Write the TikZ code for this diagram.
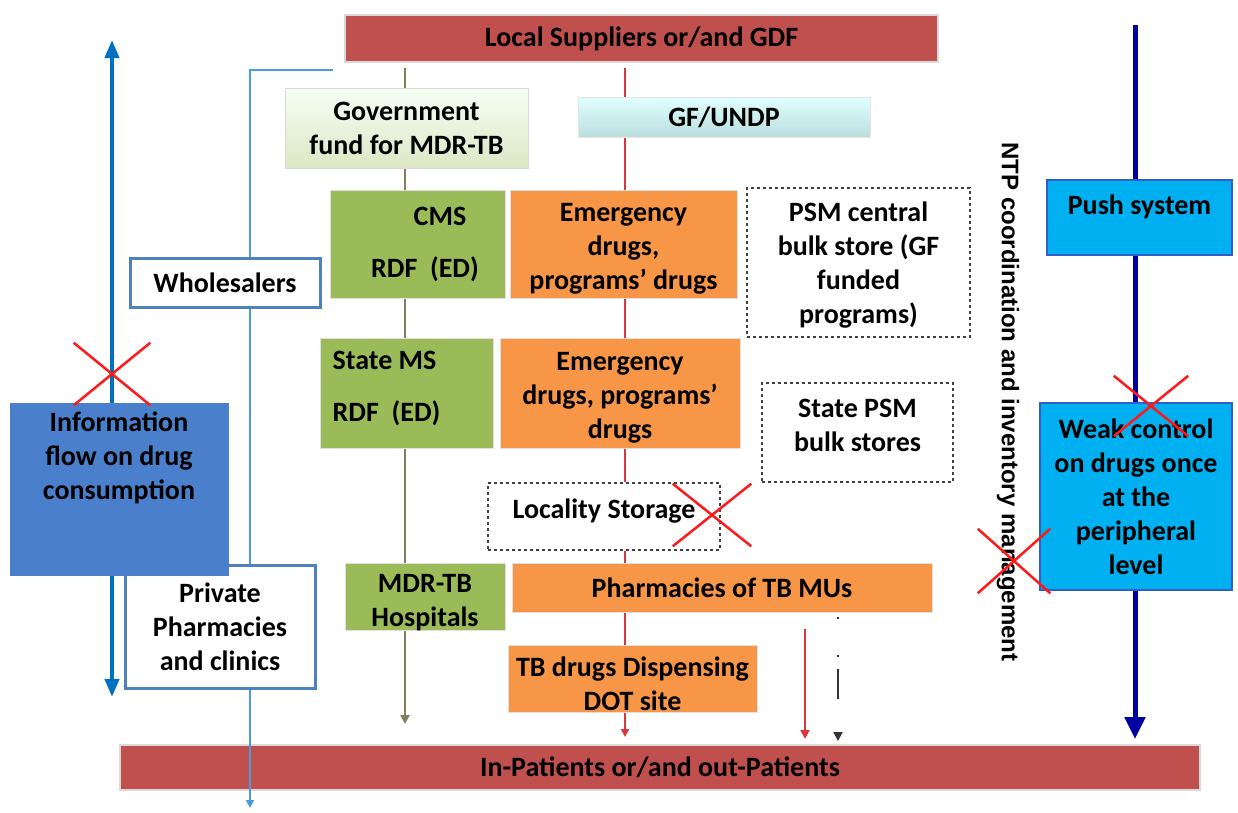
\documentclass[tikz,border=0pt]{standalone}
\usepackage{fontspec}
\setmainfont{Carlito}
\newfontfamily\arialfont{Liberation Sans}
\usetikzlibrary{arrows.meta,shapes.misc}
\definecolor{barred}{HTML}{C0504D}
\definecolor{mygreen}{HTML}{9BBB59}
\definecolor{myorange}{HTML}{F79646}
\definecolor{infoblue}{HTML}{4A7FCB}
\definecolor{mycyan}{HTML}{00B0F0}
\definecolor{cyanedge}{HTML}{2F5FC8}
\definecolor{leftblue}{HTML}{0070C0}
\definecolor{thinblue}{HTML}{4A9BDB}
\definecolor{boxblue}{HTML}{4F81BD}
\definecolor{olive}{HTML}{7F7F5F}
\definecolor{redline}{HTML}{D9363E}
\definecolor{navy}{HTML}{0000A0}
\begin{document}
\begin{tikzpicture}[x=1pt,y=-1pt,
  txt/.style={font=\bfseries\fontsize{28}{34}\selectfont, align=center, inner sep=0pt},
  box/.style={txt, draw=black!12, line width=1pt},
  bar/.style={box, fill=barred, draw=black!15, line width=2pt},
  greenbox/.style={box, fill=mygreen},
  orangebox/.style={box, fill=myorange},
  dashbox/.style={box, draw=black!75, dashed, line width=1.2pt, fill=white},
  whitebox/.style={box, draw=boxblue, line width=3pt, fill=white},
  cyanbox/.style={box, fill=mycyan, draw=cyanedge, line width=1.5pt},
  redx/.style={cross out, draw=red!90!white, line width=2.5pt, inner sep=0pt},
  oliveline/.style={draw=olive, line width=2.5pt},
  redln/.style={draw=redline, line width=2pt},
  thinln/.style={draw=thinblue, line width=2pt},
  navyln/.style={draw=navy, line width=5pt},
  leftln/.style={draw=leftblue, line width=4pt},
]
\useasboundingbox (0,0) rectangle (1238,812);

% bars
\node[bar, minimum width=593pt, minimum height=47pt] (top) at (641.5,38.5) {Local Suppliers or/and GDF};
\node[bar, minimum width=1080pt, minimum height=45pt] (bottom) at (660,767.5) {In-Patients or/and out-Patients};

% funds
\node[box, top color=green!4!white, bottom color=mygreen!35!white, draw=black!15, minimum width=243pt, minimum height=80pt] (gov) at (406.5,128) {Government\\fund for MDR-TB};
\node[box, top color=cyan!12!white, bottom color=cyan!35!gray!40!white, draw=black!10, minimum width=292pt, minimum height=40pt] (gf) at (724,117) {GF/UNDP};

% central level
\node[greenbox, minimum width=175pt, minimum height=108pt] (cms) at (417.5,244) {\hspace*{45pt}CMS\\[18pt]\hspace*{15pt}RDF~~(ED)};
\node[orangebox, minimum width=227pt, minimum height=108pt] (em1) at (623.5,244) {};
\node[txt] (em1text) at ([yshift=-5pt]em1.center) {Emergency\\drugs,\\programs’ drugs};
\node[dashbox, minimum width=223pt, minimum height=149pt] (psm) at (858.5,262.5) {};
\node[txt] (psmtext) at ([yshift=-3pt]psm.center) {PSM central\\bulk store (GF\\funded\\programs)};

% state level
\node[greenbox, minimum width=173pt, minimum height=110pt] (sms) at (406.5,393) {};
\node[txt, anchor=north west, align=left] (smstext) at ([xshift=13pt,yshift=-13pt]sms.north west) {State MS\\[18pt]RDF~~(ED)};
\node[orangebox, minimum width=240pt, minimum height=110pt] (em2) at (620,393) {};
\node[txt] (em2text) at ([yshift=-5pt]em2.center) {Emergency\\drugs, programs’\\drugs};
\node[dashbox, minimum width=191pt, minimum height=99pt] (spsm) at (857.5,432.5) {};
\node[txt] (spsmtext) at ([yshift=7pt]spsm.center) {State PSM\\bulk stores};

% locality
\node[dashbox, minimum width=232pt, minimum height=67pt] (loc) at (604,516.5) {};
\node[txt] (loctext) at ([yshift=5pt]loc.center) {Locality Storage};

% facilities
\node[greenbox, minimum width=160pt, minimum height=67pt] (mdr) at (425,596.5) {};
\node[txt] (mdrtext) at ([yshift=-6pt]mdr.center) {MDR-TB\\Hospitals};
\node[orangebox, minimum width=420pt, minimum height=49pt] (pharm) at (722,587.5) {Pharmacies of TB MUs};
\node[orangebox, minimum width=249pt, minimum height=67pt] (tbd) at (632.5,678.5) {};
\node[txt] (tbdtext) at ([yshift=-5pt]tbd.center) {TB drugs Dispensing\\DOT site};

% private sector
\node[whitebox, minimum width=190pt, minimum height=49pt] (whole) at (225,282.5) {Wholesalers};
\node[whitebox, minimum width=190pt, minimum height=123pt] (priv) at (220,626.5) {Private\\Pharmacies\\and clinics};

% information box
\node[box, fill=infoblue, draw=infoblue, minimum width=218pt, minimum height=172pt] (info) at (119,489) {};
\node[txt, anchor=north] (infotext) at ([yshift=-9pt]info.north) {Information\\flow on drug\\consumption};

% push side
\node[cyanbox, minimum width=185pt, minimum height=75pt, text height=20pt, text depth=27pt] (push) at (1139.5,217.5) {Push system};
\node[cyanbox, minimum width=192pt, minimum height=187pt] (weak) at (1136,496.5) {Weak control\\on drugs once\\at the\\peripheral\\level};

% NTP text
\node[rotate=-90, inner sep=0pt, font=\arialfont\bfseries\fontsize{24}{28}\selectfont] (ntp) at (1008,402) {NTP coordination and inventory management};

% coordinates
\coordinate (lx) at (112,0);
\coordinate (ltop) at (112,40);
\coordinate (lbot) at (112,697);
\coordinate (wx) at (250,0);
\coordinate (wstart) at (333,70);
\coordinate (wend) at (250,808);
\coordinate (ox) at (405,0);
\coordinate (oend) at (405,724);
\coordinate (rx) at (625,0);
\coordinate (rend) at (625,737);
\coordinate (r2x) at (805,0);
\coordinate (r2end) at (805,739);
\coordinate (dx) at (838,0);
\coordinate (dend) at (838,741);
\coordinate (bx) at (1135,0);
\coordinate (bstart) at (1135,25);
\coordinate (bend) at (1135,739);

% left information arrow
\draw[leftln, -{Triangle[length=18pt,width=14pt]}] (info.north -| lx) -- (ltop);
\draw[leftln, -{Triangle[length=18pt,width=14pt]}] (info.south -| lx) -- (lbot);

% private sector thin line
\draw[thinln] (wstart) -| (whole.north -| wx);
\draw[thinln] (whole.south -| wx) -- (priv.north -| wx);
\draw[thinln, -{Triangle[length=8pt,width=8pt]}] (priv.south -| wx) -- (wend);

% olive line (government)
\draw[oliveline] ([yshift=-5pt]top.south -| ox) -- (gov.north -| ox);
\draw[oliveline] (gov.south -| ox) -- (cms.north -| ox);
\draw[oliveline] (cms.south -| ox) -- (sms.north -| ox);
\draw[oliveline] (sms.south -| ox) -- (mdr.north -| ox);
\draw[oliveline, -{Triangle[length=9pt,width=9pt]}] (mdr.south -| ox) -- (oend);

% red line (GF)
\draw[redln] ([yshift=-5pt]top.south -| rx) -- (gf.north -| rx);
\draw[redln] (gf.south -| rx) -- (em1.north -| rx);
\draw[redln] (em1.south -| rx) -- (em2.north -| rx);
\draw[redln] (em2.south -| rx) -- (loc.north -| rx);
\draw[redln] (loc.south -| rx) -- (pharm.north -| rx);
\draw[redln] (pharm.south -| rx) -- (tbd.north -| rx);
\draw[redln, -{Triangle[length=8pt,width=8pt]}] (tbd.south -| rx) -- (rend);
\draw[redln, -{Triangle[length=9pt,width=9pt]}] ([yshift=-16pt]pharm.south -| r2x) -- (r2end);
\draw[draw=black!80, line width=1.8pt, dash pattern=on 2pt off 36pt on 2pt off 12pt on 30pt off 40pt, -{Triangle[length=9pt,width=9pt]}] ([yshift=-4pt]pharm.south -| dx) -- (dend);

% navy push line
\draw[navyln] (bstart) -- (push.north -| bx);
\draw[navyln] (push.south -| bx) -- (weak.north -| bx);
\draw[navyln, -{Triangle[length=22pt,width=20pt]}] (weak.south -| bx) -- (bend);

% red crosses
\node[redx, minimum width=74pt, minimum height=60pt] (x1) at (112,374) {};
\node[redx, minimum width=76pt, minimum height=60pt] (x2) at (712,515) {};
\node[redx, minimum width=72pt, minimum height=58pt] (x3) at (1151,406) {};
\node[redx, minimum width=70pt, minimum height=62pt] (x4) at (1014,561) {};
\end{tikzpicture}
\end{document}
